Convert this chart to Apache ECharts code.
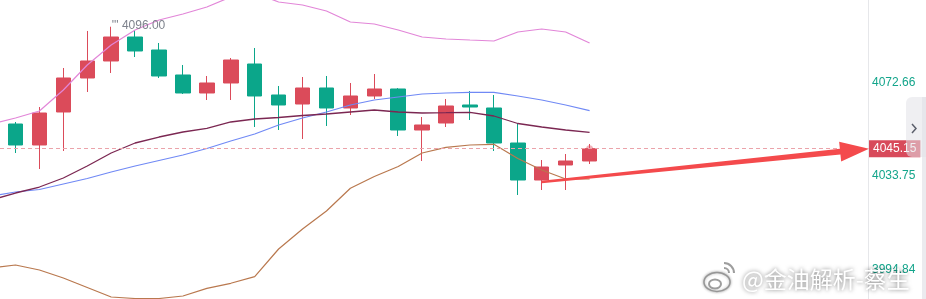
<!DOCTYPE html>
<html>
<head>
<meta charset="utf-8">
<style>
html,body{margin:0;padding:0;background:#fff;}
#c{width:926px;height:299px;}
</style>
<script src="https://cdn.jsdelivr.net/npm/echarts@6/dist/echarts.min.js"></script>
</head>
<body>
<div id="c"></div>
<script>
// ---- data ----
// bar positions: 0..24 are the visible candles; indicator lines also carry the value of bar -1 (just off the left edge)
const barIndex = [0,1,2,3,4,5,6,7,8,9,10,11,12,13,14,15,16,17,18,19,20,21,22,23,24];
const lineIndex = [-1].concat(barIndex);

const opens  = [4055.43,4046.68,4060.44,4074.62,4081.71,4091.71,4086.29,4075.87,4068.36,4072.53,4080.45,4067.53,4063.77,4070.45,4062.11,4067.11,4070.03,4052.93,4055.85,4063.36,4062.11,4047.51,4032.08,4038.34,4040.01];
const closes = [4046.68,4060.02,4074.62,4081.71,4091.71,4085.88,4075.45,4068.36,4072.53,4082.12,4067.11,4063.36,4070.45,4062.11,4067.11,4070.03,4052.93,4055.02,4062.94,4062.52,4047.51,4032.08,4037.50,4040.01,4045.15];
const lows   = [4043.34,4036.67,4044.18,4068.78,4076.70,4083.37,4074.62,4067.94,4065.44,4065.44,4054.18,4052.93,4049.18,4054.60,4059.19,4065.86,4050.43,4040.01,4054.18,4057.10,4044.18,4025.83,4027.91,4027.91,4038.75];
const highs  = [4056.27,4062.52,4078.79,4094.22,4096.00,4094.63,4089.21,4080.04,4075.45,4082.96,4087.13,4071.28,4075.03,4075.45,4072.53,4076.28,4070.40,4058.35,4065.86,4069.20,4067.53,4055.85,4040.42,4042.92,4047.09];

const upperBand = [4055.43,4057.94,4060.86,4069.61,4080.04,4088.38,4094.63,4098.80,4101.31,4104.22,4108.39,4110.06,4106.31,4105.06,4102.56,4097.97,4097.14,4094.63,4091.71,4090.88,4090.46,4090.05,4093.80,4095.05,4093.80,4089.21];
const midBand   = [4025.41,4027.08,4028.12,4030.41,4032.71,4035.42,4037.92,4040.21,4042.51,4045.22,4048.35,4051.26,4055.02,4057.94,4060.44,4063.36,4065.44,4066.69,4067.94,4068.36,4068.65,4068.65,4067.11,4065.44,4063.36,4060.98];
const maLine    = [4023.74,4026.66,4029.16,4032.92,4037.92,4043.34,4047.51,4050.01,4052.10,4053.64,4056.27,4057.52,4058.15,4058.98,4059.60,4060.44,4061.27,4060.44,4060.02,4060.15,4060.31,4058.77,4055.64,4054.18,4052.93,4051.97];
const lowerBand = [3995.39,3996.64,3994.55,3991.21,3987.25,3983.29,3982.67,3982.67,3983.71,3986.92,3989.01,3991.76,4003.31,4011.65,4019.15,4028.62,4033.54,4037.71,4043.34,4045.72,4046.68,4046.97,4041.05,4036.25,4032.50,4032.50];

const tickValues = [3994.84, 4033.75, 4072.66];
const lastPrice = 4045.15;
const yMin = 3982.46, yMax = 4107.14;
const xMin = -0.648, xMax = 35.64;
const arrowFromIndex = 22;
const arrowFromValue = 4031.25;
const watermark = '@金油解析-蔡生';

// ---- build ----
const candleData = barIndex.map((x, i) => [x, opens[i], closes[i], lows[i], highs[i]]);
const pair = arr => lineIndex.map((x, i) => [x, arr[i]]);
const dotData = [[barIndex[barIndex.length - 1], closes[closes.length - 1]]];

const RED = '#db4b5a', GREEN = '#0ba68a';
const FONT = 'Arial, "Liberation Sans", sans-serif';

function lineSeries(data, color, w) {
  return { type: 'line', data: pair(data), symbol: 'none', smooth: false, silent: true, clip: true,
    lineStyle: { color: color, width: w }, z: 3 };
}

const chart = echarts.init(document.getElementById('c'), null, { renderer: 'canvas' });
chart.setOption({
  animation: false,
  backgroundColor: '#fff',
  grid: { left: 0, right: 58, top: 0, bottom: 0 },
  xAxis: { type: 'value', min: xMin, max: xMax, show: false },
  yAxis: {
    type: 'value', position: 'right', min: yMin, max: yMax,
    splitLine: { show: false },
    axisLine: { show: true, onZero: false, lineStyle: { color: '#e6e7ea', width: 1 } },
    axisTick: { show: false },
    axisLabel: { customValues: tickValues, color: '#13a58b', fontSize: 12, fontFamily: FONT, margin: 4,
      formatter: v => v.toFixed(2) }
  },
  series: [
    {
      type: 'candlestick', data: candleData, barWidth: 15, z: 2,
      encode: { x: 0, y: [1, 2, 3, 4] },
      itemStyle: { color: RED, color0: GREEN, borderColor: RED, borderColor0: GREEN, borderWidth: 1 },
      markPoint: {
        symbol: 'circle', symbolSize: 1, itemStyle: { color: 'rgba(0,0,0,0)' }, silent: true,
        data: [{ type: 'max', valueDim: 'highest' }],
        label: { show: true, position: 'right', distance: 0, offset: [0, -1], color: '#7d828c', fontSize: 12, fontFamily: FONT,
          formatter: p => "''' " + Number(p.value).toFixed(2) }
      },
      markLine: {
        symbol: 'none', silent: true,
        data: [{ yAxis: lastPrice }],
        lineStyle: { color: '#eba3aa', type: [4, 3], width: 1 },
        label: { show: true, position: 'end', distance: 1, formatter: p => Number(p.value).toFixed(2),
          backgroundColor: '#d84a5b', color: '#fff', padding: [3, 4, 2, 4], fontSize: 12, fontFamily: FONT }
      }
    },
    lineSeries(upperBand, '#e286d8', 1.2),
    lineSeries(midBand, '#7089f5', 1.2),
    lineSeries(maLine, '#7b2752', 1.3),
    lineSeries(lowerBand, '#b9784e', 1.2),
    { type: 'scatter', data: dotData, symbolSize: 7, silent: true, z: 4,
      itemStyle: { color: 'rgba(225,80,95,0.55)' } }
  ]
});

// ---- annotations (arrow, tab, watermark) ----
const p0 = chart.convertToPixel({ gridIndex: 0 }, [arrowFromIndex, arrowFromValue]);
const tipY = chart.convertToPixel({ yAxisIndex: 0 }, lastPrice);
const tipX = chart.convertToPixel({ xAxisIndex: 0 }, xMax) + 1;
const dx = tipX - p0[0], dy = tipY - p0[1];
const len = Math.sqrt(dx * dx + dy * dy);
const ux = dx / len, uy = dy / len, nx = -uy, ny = ux;
const bx = tipX - ux * 29, by = tipY - uy * 29;
const arrowPts = [
  [p0[0] + nx * 1.2, p0[1] + ny * 1.2],
  [bx + nx * 2.8, by + ny * 2.8],
  [bx + nx * 10, by + ny * 10],
  [tipX, tipY],
  [bx - nx * 10, by - ny * 10],
  [bx - nx * 2.8, by - ny * 2.8],
  [p0[0] - nx * 1.2, p0[1] - ny * 1.2]
];

const grey = 'rgba(140,140,140,0.85)';
chart.setOption({
  graphic: [
    { type: 'polygon', z: 50, silent: true, shape: { points: arrowPts }, style: { fill: '#f44a4c' } },
    { type: 'rect', z: 60, silent: true, shape: { x: 922, y: 97, width: 4, height: 202 }, style: { fill: '#ebebef' } },
    { type: 'rect', z: 60, silent: true, shape: { x: 906, y: 97, width: 20, height: 60, r: [6, 0, 0, 6] }, style: { fill: 'rgba(226,226,232,0.55)' } },
    { type: 'polyline', z: 61, silent: true, shape: { points: [[912, 124], [916, 128.5], [912, 133]] }, style: { stroke: '#5b5f6b', lineWidth: 1.5, fill: null } },
    { type: 'ellipse', z: 70, silent: true, shape: { cx: 717, cy: 282, rx: 13, ry: 9.5 },
      style: { fill: '#fff', stroke: grey, lineWidth: 1.5, shadowBlur: 3, shadowColor: 'rgba(0,0,0,0.35)' } },
    { type: 'ellipse', z: 71, silent: true, shape: { cx: 715, cy: 284, rx: 6, ry: 4.5 },
      style: { fill: '#fff', stroke: grey, lineWidth: 2 } },
    { type: 'arc', z: 71, silent: true, shape: { cx: 724, cy: 273, r: 5, startAngle: -Math.PI / 2, endAngle: 0 },
      style: { stroke: grey, lineWidth: 2, fill: null } },
    { type: 'arc', z: 71, silent: true, shape: { cx: 724, cy: 273, r: 10, startAngle: -Math.PI / 2, endAngle: 0 },
      style: { stroke: grey, lineWidth: 2, fill: null } },
    { type: 'text', z: 72, silent: true, x: 742, y: 279,
      style: { text: watermark, fontSize: 23, fontFamily: '"Noto Sans CJK SC", sans-serif', fill: '#ffffff',
        verticalAlign: 'middle', align: 'left',
        textShadowBlur: 4, textShadowColor: 'rgba(0,0,0,0.55)',
        shadowBlur: 4, shadowColor: 'rgba(0,0,0,0.55)' } }
  ]
});
</script>
</body>
</html>
